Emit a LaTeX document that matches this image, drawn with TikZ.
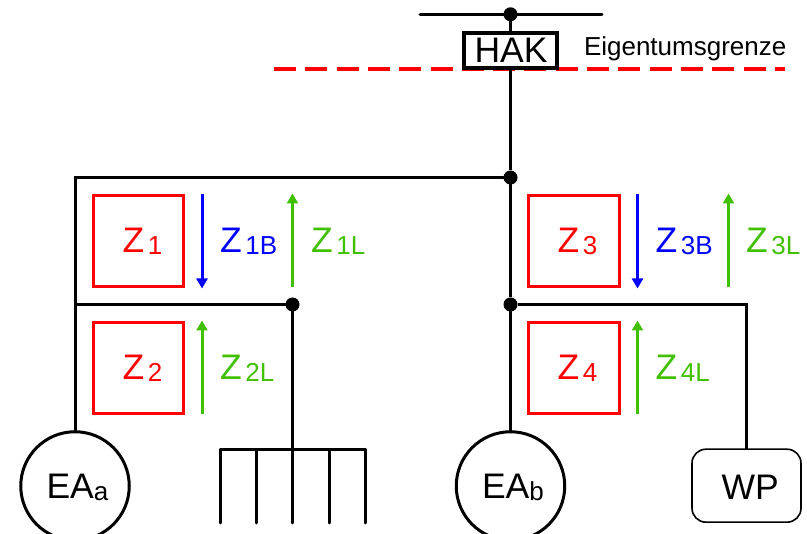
\documentclass[tikz,border=0pt]{standalone}
\usepackage{fontspec}
\setmainfont{Liberation Sans}
\usetikzlibrary{arrows.meta}
\definecolor{zgreen}{RGB}{64,192,0}
\definecolor{zblue}{RGB}{0,0,255}
\definecolor{zred}{RGB}{255,0,0}
\newcommand{\bigf}{\fontsize{35.5}{36}\selectfont}
\newcommand{\subf}{\fontsize{26}{26}\selectfont}
\newcommand{\zlabel}[2]{\bigf #1\kern3.8pt\raisebox{-1.6pt}{\subf #2}}
\tikzset{
  wire/.style={draw=black,line width=3pt},
  dotnode/.style={circle,fill=black,draw=none,minimum size=14pt,inner sep=0pt,outer sep=0pt},
  zbox/.style={rectangle,draw=zred,line width=3pt,minimum width=90.5pt,minimum height=90.5pt,inner sep=0pt,outer sep=0pt},
  txt/.style={inner sep=0pt,outer sep=0pt,anchor=base west},
  ztxt/.style={txt,text=zred},
  gtxt/.style={txt,text=zgreen},
  btxt/.style={txt,text=zblue},
  garrow/.style={draw=zgreen,line width=3pt,-{Triangle[length=10pt,width=11pt]}},
  barrow/.style={draw=zblue,line width=3pt,-{Triangle[length=10pt,width=11pt]}},
  eacircle/.style={circle,draw=black,line width=3pt,minimum size=108.5pt,inner sep=0pt,outer sep=0pt},
}
\begin{document}
\begin{tikzpicture}[x=1pt,y=-1pt]
\clip (0,0) rectangle (807,534);
\useasboundingbox (0,0) rectangle (807,534);
% coordinates
\coordinate (busL) at (420,14.3);
\coordinate (busR) at (602,14.3);
\coordinate (gL) at (274,69);
\coordinate (gR) at (785,69);
\coordinate (topL) at (75,177.5);
\coordinate (midL) at (75,304.5);
\coordinate (midR) at (746.5,304.5);
\coordinate (forkA) at (220.5,449.5);
\coordinate (forkB) at (256.5,449.5);
\coordinate (forkC) at (292.5,449.5);
\coordinate (forkD) at (329.5,449.5);
\coordinate (forkE) at (365.5,449.5);
\coordinate (forkAe) at (220.5,523);
\coordinate (forkBe) at (256.5,523);
\coordinate (forkCe) at (292.5,523);
\coordinate (forkDe) at (329.5,523);
\coordinate (forkEe) at (365.5,523);
% property line
\draw[draw=zred,line width=3.6pt,dash pattern=on 22pt off 9.3pt] (gL) -- (gR);
% nodes
\node[dotnode] (d0) at (510.5,14.3) {};
\node[dotnode] (d1) at (510.5,177.5) {};
\node[dotnode] (d2) at (510.5,304.5) {};
\node[dotnode] (d3) at (292.5,304.5) {};
\node[draw=black,fill=white,line width=3.8pt,minimum width=93pt,minimum height=35pt,inner sep=0pt,outer sep=0pt] (hak) at (510.5,50.5) {};
\node[txt] (hakt) at (474.5,63) {\bigf HAK};
\node[txt] (eig) at (584,56) {\fontsize{26}{26}\selectfont Eigentumsgrenze};
\node[eacircle] (eaa) at (75,486) {};
\node[eacircle] (eab) at (510.5,486) {};
\node[txt] (eaat) at (46.5,499) {\bigf EA\raisebox{-1.6pt}{\subf a}};
\node[txt] (eabt) at (482,499) {\bigf EA\raisebox{-1.6pt}{\subf b}};
\node[draw=black,line width=1.6pt,rounded corners=14pt,minimum width=109pt,minimum height=73pt,inner sep=0pt,outer sep=0pt] (wp) at (746.5,485.7) {};
\node[txt] (wpt) at (721.5,500) {\bigf WP};
\node[zbox] (z1) at (138.7,241) {};
\node[zbox] (z2) at (138.7,368) {};
\node[zbox] (z3) at (574,241) {};
\node[zbox] (z4) at (574,368) {};
\node[ztxt] (z1t) at (122.5,253) {\zlabel{Z}{1}};
\node[ztxt] (z2t) at (122.5,380) {\zlabel{Z}{2}};
\node[ztxt] (z3t) at (557.5,253) {\zlabel{Z}{3}};
\node[ztxt] (z4t) at (557.5,380) {\zlabel{Z}{4}};
\node[btxt] (b1t) at (220,253) {\zlabel{Z}{1B}};
\node[gtxt] (l1t) at (311,253) {\zlabel{Z}{1L}};
\node[gtxt] (l2t) at (220,380) {\zlabel{Z}{2L}};
\node[btxt] (b3t) at (655.5,253) {\zlabel{Z}{3B}};
\node[gtxt] (l3t) at (746,253) {\zlabel{Z}{3L}};
\node[gtxt] (l4t) at (655.5,380) {\zlabel{Z}{4L}};
% arrow end points
\coordinate (a1s) at (202,194.5); \coordinate (a1e) at (202,288.5);
\coordinate (a2s) at (292.5,287.5); \coordinate (a2e) at (292.5,193.5);
\coordinate (a3s) at (202,414.5); \coordinate (a3e) at (202,320.5);
\coordinate (a4s) at (637.5,194.5); \coordinate (a4e) at (637.5,288.5);
\coordinate (a5s) at (728.5,287.5); \coordinate (a5e) at (728.5,193.5);
\coordinate (a6s) at (637.5,414.5); \coordinate (a6e) at (637.5,320.5);
% wires
\draw[wire,line cap=round] (busL) -- (busR);
\draw[wire] (d0) -- (hak.north);
\draw[wire] (hak.south) -- (d1);
\draw[wire] (d1) -- (d2);
\draw[wire] (d2) -- (eab.north);
\draw[wire,line join=miter] (d1) -- (topL) -- (eaa.north);
\draw[wire] (midL) -- (d3);
\draw[wire] (d3) -- (forkC);
\draw[wire,line join=miter] (d2) -- (midR) -- (wp.north);
\draw[wire,line cap=round] (forkA) -- (forkE);
\draw[wire,line cap=round] (forkA) -- (forkAe);
\draw[wire,line cap=round] (forkB) -- (forkBe);
\draw[wire,line cap=round] (forkC) -- (forkCe);
\draw[wire,line cap=round] (forkD) -- (forkDe);
\draw[wire,line cap=round] (forkE) -- (forkEe);
% arrows
\draw[barrow] (a1s) -- (a1e);
\draw[garrow] (a2s) -- (a2e);
\draw[garrow] (a3s) -- (a3e);
\draw[barrow] (a4s) -- (a4e);
\draw[garrow] (a5s) -- (a5e);
\draw[garrow] (a6s) -- (a6e);
\end{tikzpicture}
\end{document}
